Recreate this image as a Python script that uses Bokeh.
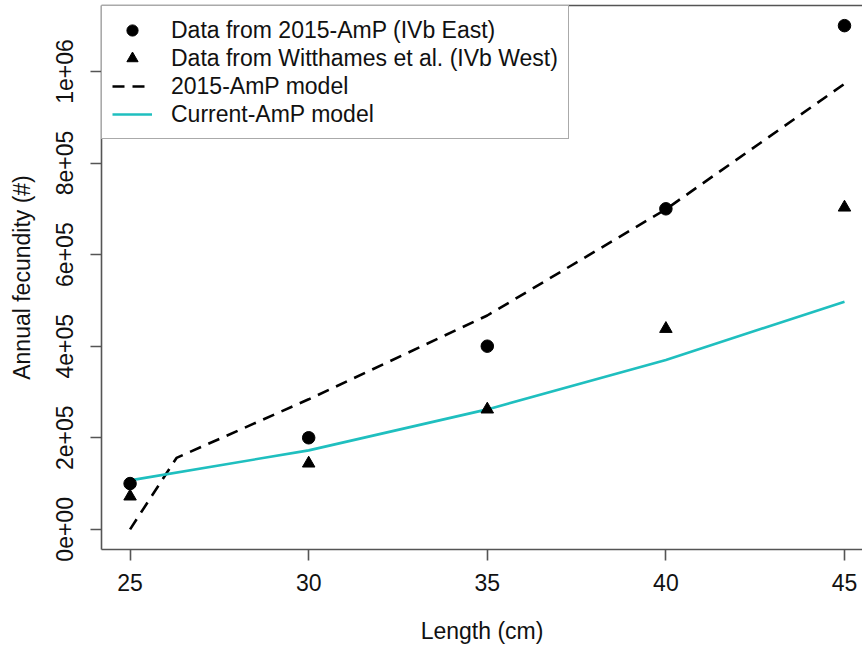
from bokeh.plotting import figure
from bokeh.models import (ColumnDataSource, FixedTicker, LinearAxis, Range1d,
                          Legend, LegendItem)
from bokeh.embed import file_html
from bokeh.resources import INLINE

# ---- data ----
length_obs = [25, 30, 35, 40, 45]
fec_east = [100000, 200000, 400000, 700000, 1100000]      # Data from 2015-AmP (IVb East)
fec_west = [72000, 144000, 262000, 438000, 703000]        # Data from Witthames et al. (IVb West)

length_2015 = [25, 26.3, 30, 35, 40, 45]
fec_2015 = [0, 156000, 284000, 467000, 699000, 973000]    # 2015-AmP model

length_cur = [25, 30, 35, 40, 45]
fec_cur = [107000, 172500, 262000, 370000, 497000]        # Current-AmP model

x_ticks = [25, 30, 35, 40, 45]
y_ticks = [0, 200000, 400000, 600000, 800000, 1000000]
y_tick_labels = ["0e+00", "2e+05", "4e+05", "6e+05", "8e+05", "1e+06"]

FONT = "Liberation Sans"
TXT = "#111111"
AX = "#555555"
FS = "23px"

p = figure(output_backend="svg", toolbar_location=None,
           x_range=Range1d(24.2, 45.504), y_range=Range1d(-44000, 1144000),
           min_border_left=101, min_border_right=0, min_border_top=5,
           min_border_bottom=90)
p.frame_width = 761
p.frame_height = 544
p.outline_line_color = None
p.xgrid.visible = False
p.ygrid.visible = False
p.background_fill_color = "white"
p.border_fill_color = "white"

# axes
xa = p.xaxis[0]
xa.ticker = FixedTicker(ticks=x_ticks)
xa.axis_label = "Length (cm)"
ya = p.yaxis[0]
ya.ticker = FixedTicker(ticks=y_ticks)
ya.major_label_overrides = {t: l for t, l in zip(y_ticks, y_tick_labels)}
ya.axis_label = "Annual fecundity (#)"
ya.major_label_orientation = "vertical"
for ax in (xa, ya):
    ax.axis_line_color = AX
    ax.axis_line_width = 1.6
    ax.major_tick_line_color = AX
    ax.major_tick_line_width = 1.6
    ax.major_tick_in = 0
    ax.major_tick_out = 11
    ax.minor_tick_line_color = None
    ax.major_label_text_font = FONT
    ax.major_label_text_font_size = FS
    ax.major_label_text_color = TXT
    ax.axis_label_text_font = FONT
    ax.axis_label_text_font_size = FS
    ax.axis_label_text_color = TXT
    ax.axis_label_text_font_style = "normal"
xa.major_label_standoff = 13
xa.axis_label_standoff = 24
ya.major_label_standoff = 17
ya.axis_label_standoff = 19

top = LinearAxis(ticker=FixedTicker(ticks=[]), axis_line_color=AX, axis_line_width=1.6,
                 major_tick_out=0, major_tick_in=0, minor_tick_out=0, minor_tick_in=0,
                 major_label_standoff=0, major_label_text_font_size="0px")
p.add_layout(top, "above")

# glyphs
src_obs = ColumnDataSource(dict(x=length_obs, east=fec_east, west=fec_west))
r_2015 = p.line(length_2015, fec_2015, line_color="black", line_width=2.6, line_dash="12 8")
r_cur = p.line(length_cur, fec_cur, line_color="#1fbfbf", line_width=2.6)
r_east = p.scatter("x", "east", source=src_obs, marker="circle", size=12.5, color="black")
r_west = p.scatter("x", "west", source=src_obs, marker="triangle", size=12.5, color="black")

legend = Legend(items=[
    LegendItem(label="Data from 2015-AmP (IVb East)", renderers=[r_east]),
    LegendItem(label="Data from Witthames et al. (IVb West)", renderers=[r_west]),
    LegendItem(label="2015-AmP model", renderers=[r_2015]),
    LegendItem(label="Current-AmP model", renderers=[r_cur]),
], location="top_left")
legend.margin = 0
legend.padding = 10
legend.spacing = 0
legend.glyph_width = 40
legend.glyph_height = 28
legend.label_height = 28
legend.label_standoff = 19
legend.label_text_font = FONT
legend.label_text_font_size = FS
legend.label_text_color = TXT
legend.border_line_color = AX
legend.border_line_width = 1.6
legend.background_fill_alpha = 1
p.add_layout(legend, "center")

open("out.html", "w").write(file_html(p, INLINE))
